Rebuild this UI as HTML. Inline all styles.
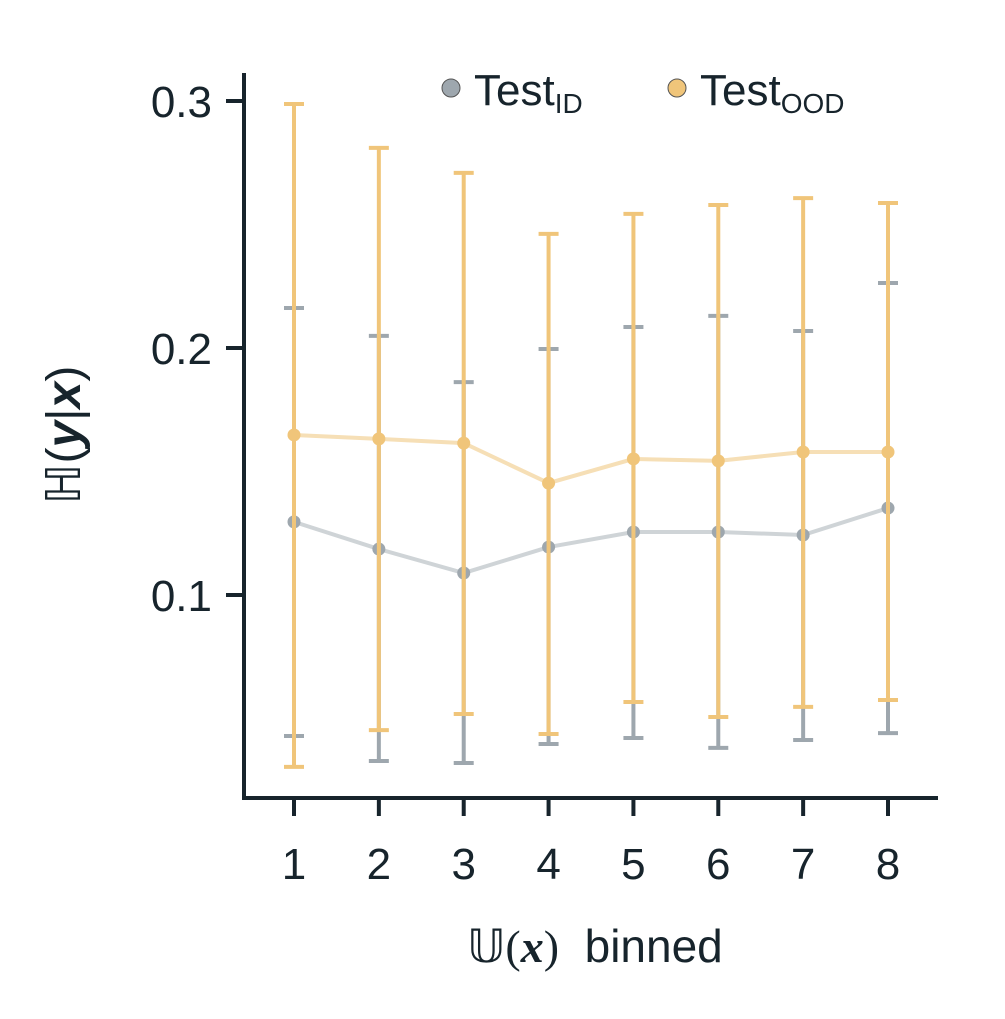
<!DOCTYPE html>
<html><head><meta charset="utf-8"><style>
body{margin:0;background:#fff}
svg{display:block}
text{font-family:"Liberation Sans","DejaVu Sans",sans-serif;fill:#17242c}
</style></head><body>
<svg id="chart" width="1005" height="1019" viewBox="0 0 1005 1019" xmlns="http://www.w3.org/2000/svg">
<g id="axes"></g>
<g id="series"></g>
<g>
<circle cx="451" cy="88" r="9" fill="#9ea7ae" stroke="#555" stroke-width="1"/>
<text x="474" y="105" font-size="44">Test<tspan font-size="28" dy="8">ID</tspan></text>
<circle cx="677" cy="88" r="9" fill="#f0c57a" stroke="#555" stroke-width="1"/>
<text x="700" y="105" font-size="44">Test<tspan font-size="28" dy="8">OOD</tspan></text>
</g>
<text transform="translate(80,435) rotate(-90)" text-anchor="middle" font-size="48" font-family="Liberation Serif,serif">ℍ(<tspan font-style="italic" font-weight="bold">y</tspan>|<tspan font-style="italic" font-weight="bold">x</tspan>)</text>
<text x="595" y="962" text-anchor="middle" font-size="46" xml:space="preserve"><tspan font-family="Liberation Serif,serif">𝕌(<tspan font-style="italic" font-weight="bold">x</tspan>)</tspan>  binned</text>
</svg>
<script>
const categories=[1,2,3,4,5,6,7,8];
const yTicks=[0.1,0.2,0.3];
const idMean=[0.1296,0.1186,0.1089,0.1194,0.1255,0.1255,0.1243,0.1352];
const idUpper=[0.2162,0.2049,0.1862,0.1996,0.2085,0.2130,0.2069,0.2263];
const idLower=[0.0429,0.0328,0.0320,0.0397,0.0421,0.0381,0.0413,0.0441];
const oodMean=[0.1648,0.1632,0.1615,0.1453,0.1551,0.1543,0.1579,0.1579];
const oodUpper=[0.2988,0.2810,0.2709,0.2462,0.2543,0.2579,0.2607,0.2587];
const oodLower=[0.0304,0.0453,0.0518,0.0437,0.0567,0.0506,0.0547,0.0575];
const NS="http://www.w3.org/2000/svg";
const xs=c=>294+(c-1)*84.857;
const ys=v=>595-(v-0.1)*2470;
function mk(tag,attrs,parent){const e=document.createElementNS(NS,tag);for(const k in attrs)e.setAttribute(k,attrs[k]);parent.appendChild(e);return e;}
const ax=document.getElementById('axes');
let e=mk('line',{x1:244,y1:73,x2:244,y2:799,stroke:'#17242c','stroke-width':4},ax);


e=mk('line',{x1:242,y1:798,x2:938,y2:798,stroke:'#17242c','stroke-width':4},ax);


yTicks.forEach(t=>{
 const y=ys(t);
 let l=mk('line',{x1:226,y1:y,x2:244,y2:y,stroke:'#17242c','stroke-width':4},ax);
 
 
 let tx=mk('text',{x:212,y:y+16,'text-anchor':'end','font-size':44},ax);
 tx.textContent=t.toFixed(1);
 
 
});
categories.forEach(c=>{
 const x=xs(c);
 let l=mk('line',{x1:x,y1:798,x2:x,y2:816,stroke:'#17242c','stroke-width':4},ax);
 
 
 let tx=mk('text',{x:x,y:879,'text-anchor':'middle','font-size':44},ax);
 tx.textContent=c;
 
 
});
const sg=document.getElementById('series');
function series(mean,lo,hi,col,lineCol,name){
 const g=mk('g',{},sg);
 
 
 categories.forEach((c,i)=>{
  const x=xs(c);
  let b=mk('line',{x1:x,y1:ys(lo[i]),x2:x,y2:ys(hi[i]),stroke:col,'stroke-width':4},g);
  
  
  [lo[i],hi[i]].forEach(v=>{
   let cp=mk('line',{x1:x-10,y1:ys(v),x2:x+10,y2:ys(v),stroke:col,'stroke-width':4},g);
   
   
  });
 });
 const p=mk('polyline',{points:categories.map((c,i)=>xs(c)+','+ys(mean[i])).join(' '),fill:'none',stroke:lineCol,'stroke-width':4},g);
 
 
 categories.forEach((c,i)=>{
  let d=mk('circle',{cx:xs(c),cy:ys(mean[i]),r:6.5,fill:col},g);
  
  
 });
}
series(idMean,idLower,idUpper,'#9ea7ae','#cfd4d7','test-id');
series(oodMean,oodLower,oodUpper,'#f0c57a','#f6dfb6','test-ood');
</script>
</body></html>
